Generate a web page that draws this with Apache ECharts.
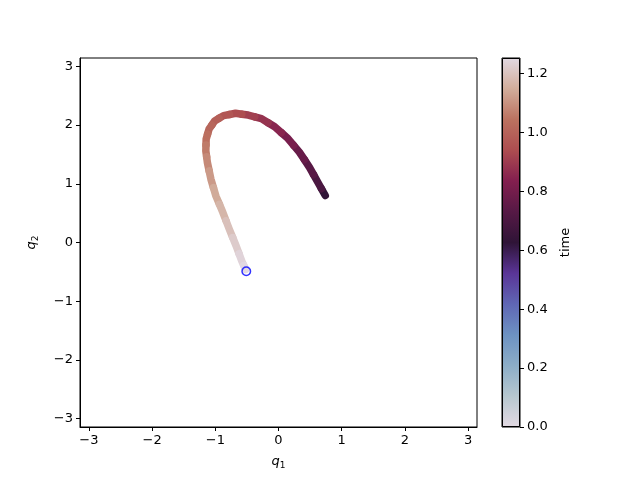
<!DOCTYPE html>
<html>
<head>
<meta charset="utf-8">
<script src="https://cdn.jsdelivr.net/npm/echarts@6/dist/echarts.min.js"></script>
<style>
  html, body { margin: 0; padding: 0; background: #fff; }
  #chart { width: 640px; height: 480px; }
</style>
</head>
<body>
<div id="chart"></div>
<script>
// trajectory (return swing, drawn on top of the outward one)
const q1Path = [0.74, 0.62, 0.49, 0.33, 0.15, -0.06, -0.27, -0.48, -0.68, -0.87, -1.01, -1.10,
  -1.145, -1.15, -1.125, -1.07, -0.99, -0.88, -0.78, -0.67, -0.58, -0.52];
const q2Path = [0.80, 1.03, 1.28, 1.54, 1.77, 1.97, 2.11, 2.17, 2.20, 2.16, 2.07, 1.93,
  1.76, 1.56, 1.36, 1.08, 0.79, 0.51, 0.23, -0.06, -0.32, -0.46];
const timePath = [0.63, 0.70, 0.735, 0.77, 0.81, 0.85, 0.88, 0.91, 0.94, 0.965, 0.99, 1.01,
  1.035, 1.06, 1.085, 1.115, 1.145, 1.17, 1.195, 1.22, 1.24, 1.2535];

// initial condition marker
const q1Start = [-0.51];
const q2Start = [-0.49];

const axisTicks = [-3, -2, -1, 0, 1, 2, 3];
const timeTicks = [0, 0.2, 0.4, 0.6, 0.8, 1.0, 1.2];
const timeMax = 1.2535;

// twilight-like colormap, evenly spaced
const twilight = ['#e2d9e2', '#b6c7cf', '#8cadc7', '#6d92c2', '#5f66b4', '#5a3597', '#2f1437',
  '#561945', '#831f4f', '#ad4d50', '#bc7260', '#d2ad9b', '#e2d9e2'];

const font = 'DejaVu Sans';
const minus = (v) => String(v).replace('-', '\u2212');

const pathData = q1Path.map((x, i) => [x, q2Path[i], timePath[i]]);
const startData = q1Start.map((x, i) => [x, q2Start[i]]);

const chart = echarts.init(document.getElementById('chart'), null, { renderer: 'canvas' });

const qName = (n) => '{i|q}{s|' + n + '}';
const qRich = {
  i: { fontStyle: 'italic', fontSize: 13, fontFamily: font, color: '#000' },
  s: { fontSize: 9, fontFamily: font, color: '#000', padding: [7, 0, 0, 0] }
};

const valueAxis = {
  type: 'value',
  min: -Math.PI,
  max: Math.PI,
  nameLocation: 'middle',
  nameTextStyle: { rich: qRich },
  axisLine: { show: true, onZero: false, lineStyle: { color: '#000', width: 1 } },
  axisTick: { show: true, length: 4, customValues: axisTicks, lineStyle: { color: '#000' } },
  axisLabel: { customValues: axisTicks, formatter: minus, color: '#000', fontSize: 13, fontFamily: font, margin: 7 },
  splitLine: { show: false }
};

const stops = twilight.map((c, i) => ({ offset: i / (twilight.length - 1), color: c }));

const mid = (p, q) => [(p[0] + q[0]) / 2, (p[1] + q[1]) / 2];

const option = {
  animation: false,
  backgroundColor: '#fff',
  grid: [
    { left: 80, top: 58, width: 397, height: 369, show: true, borderColor: '#000', borderWidth: 1 },
    { left: 502, top: 58, width: 18, height: 369, show: true, borderColor: '#000', borderWidth: 1 }
  ],
  xAxis: [
    Object.assign({}, valueAxis, { gridIndex: 0, name: qName(1), nameGap: 27 }),
    { type: 'category', gridIndex: 1, data: ['t'], show: false, boundaryGap: true }
  ],
  yAxis: [
    Object.assign({}, valueAxis, { gridIndex: 0, name: qName(2), nameGap: 40, nameRotate: 90 }),
    {
      type: 'value', gridIndex: 1, position: 'right', min: 0, max: timeMax,
      name: 'time', nameLocation: 'middle', nameGap: 39, nameRotate: 90,
      nameTextStyle: { color: '#000', fontSize: 13, fontFamily: font },
      axisLine: { show: false },
      axisTick: { show: true, length: 4, customValues: timeTicks, lineStyle: { color: '#000' } },
      axisLabel: { customValues: timeTicks, formatter: (v) => v.toFixed(1), color: '#000', fontSize: 13, fontFamily: font, margin: 7 },
      splitLine: { show: false }
    }
  ],
  visualMap: {
    show: false,
    type: 'continuous',
    seriesIndex: 0,
    dimension: 2,
    min: 0,
    max: timeMax,
    inRange: { color: twilight }
  },
  series: [
    {
      type: 'custom',
      xAxisIndex: 0,
      yAxisIndex: 0,
      data: pathData,
      encode: { x: 0, y: 1 },
      renderItem: (params, api) => {
        const i = params.dataIndex;
        const n = pathData.length;
        const cur = api.coord([q1Path[i], q2Path[i]]);
        const prev = api.coord([q1Path[Math.max(i - 1, 0)], q2Path[Math.max(i - 1, 0)]]);
        const next = api.coord([q1Path[Math.min(i + 1, n - 1)], q2Path[Math.min(i + 1, n - 1)]]);
        return {
          type: 'polyline',
          shape: { points: [mid(prev, cur), cur, mid(cur, next)] },
          style: { stroke: api.visual('color'), fill: null, lineWidth: 7.5, lineCap: 'round', lineJoin: 'round' }
        };
      }
    },
    {
      type: 'scatter',
      xAxisIndex: 0,
      yAxisIndex: 0,
      data: startData,
      symbol: 'circle',
      symbolSize: 8.5,
      z: 5,
      itemStyle: { color: 'rgba(0,0,0,0)', borderColor: '#0000ff', borderWidth: 1.5 }
    },
    {
      type: 'bar',
      xAxisIndex: 1,
      yAxisIndex: 1,
      data: [timeMax],
      barWidth: '100%',
      itemStyle: {
        color: new echarts.graphic.LinearGradient(0, 1, 0, 0, stops),
        borderColor: '#000',
        borderWidth: 1
      }
    }
  ]
};

chart.setOption(option);
</script>
</body>
</html>
